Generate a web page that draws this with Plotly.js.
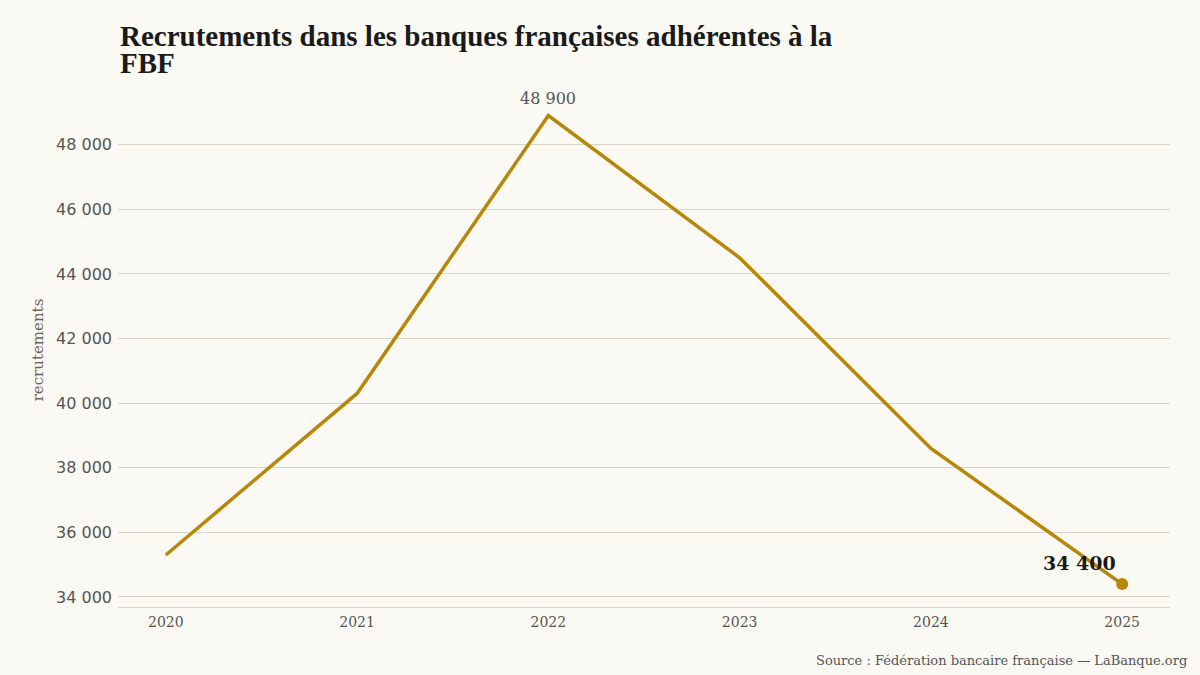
<!DOCTYPE html>
<html>
<head>
<meta charset="utf-8">
<script src="https://cdn.plot.ly/plotly-3.0.1.min.js"></script>
<style>
  html, body { margin: 0; padding: 0; background: #fbf9f3; }
  #chart { width: 1200px; height: 675px; }
</style>
</head>
<body>
<div id="chart"></div>
<script>
// Recrutements annuels, banques adhérentes FBF
const years = [2020, 2021, 2022, 2023, 2024, 2025];
const hires = [35300, 40300, 48900, 44500, 38600, 34400];
const yTicks = [34000, 36000, 38000, 40000, 42000, 44000, 46000, 48000];

const gold = '#b8860b';
const fmt = v => String(v).replace(/\B(?=(\d{3})+(?!\d))/g, ' ');

const peakIdx = hires.indexOf(Math.max(...hires));
const lastIdx = hires.length - 1;

const titleFont = { family: '"Liberation Serif", serif', size: 29, color: '#1a1a1a', weight: 'bold' };

const traces = [
  {
    x: years, y: hires, type: 'scatter', mode: 'lines',
    line: { color: gold, width: 3.5 },
    hoverinfo: 'skip', showlegend: false
  },
  {
    x: [years[lastIdx]], y: [hires[lastIdx]], type: 'scatter', mode: 'markers',
    marker: { color: gold, size: 12 },
    hoverinfo: 'skip', showlegend: false
  }
];

const layout = {
  width: 1200, height: 675,
  paper_bgcolor: '#fbf9f3', plot_bgcolor: '#fbf9f3',
  margin: { l: 118, r: 30, t: 93, b: 68 },
  separators: ', ',
  xaxis: {
    range: [2019.75, 2025.25],
    tickvals: years, ticktext: years.map(String),
    showgrid: false, zeroline: false,
    showline: true, linecolor: '#d9d3c8', linewidth: 1,
    ticks: '', ticklabelstandoff: 2,
    tickfont: { family: '"DejaVu Serif", serif', size: 14, color: '#555' }
  },
  yaxis: {
    range: [33690, 49600],
    tickvals: yTicks, tickformat: ',d',
    showgrid: true, gridcolor: '#d9d3c8', gridwidth: 1,
    zeroline: false, showline: false, ticks: '',
    ticklabelstandoff: 5,
    tickfont: { family: '"DejaVu Sans", sans-serif', size: 16, color: '#555' },
    title: {
      text: 'recrutements', standoff: 8,
      font: { family: '"DejaVu Serif", serif', size: 15, color: '#666' }
    }
  },
  annotations: [
    // Titre sur deux lignes
    {
      x: 0, y: 1, xref: 'paper', yref: 'paper',
      text: '<b>Recrutements dans les banques françaises adhérentes à la</b>',
      showarrow: false, xanchor: 'left', yanchor: 'middle', yshift: 57,
      font: titleFont
    },
    {
      x: 0, y: 1, xref: 'paper', yref: 'paper',
      text: '<b>FBF</b>',
      showarrow: false, xanchor: 'left', yanchor: 'middle', yshift: 30,
      font: titleFont
    },
    {
      x: years[peakIdx], y: hires[peakIdx], xref: 'x', yref: 'y',
      text: fmt(hires[peakIdx]), showarrow: false,
      yanchor: 'bottom', yshift: 6,
      font: { family: '"DejaVu Serif", serif', size: 16, color: '#555' }
    },
    {
      x: years[lastIdx], y: hires[lastIdx], xref: 'x', yref: 'y',
      text: '<b>' + fmt(hires[lastIdx]) + '</b>', showarrow: false,
      xanchor: 'right', yanchor: 'bottom', xshift: -4, yshift: 8,
      font: { family: '"DejaVu Serif", serif', size: 19, color: '#1a1a1a' }
    },
    {
      x: 1, y: 0, xref: 'paper', yref: 'paper',
      text: 'Source : Fédération bancaire française — LaBanque.org',
      showarrow: false, xanchor: 'right', yanchor: 'top',
      xshift: 19, yshift: -44,
      font: { family: '"DejaVu Serif", serif', size: 13, color: '#555' }
    }
  ]
};

Plotly.newPlot('chart', traces, layout, { displayModeBar: false, staticPlot: true });
</script>
</body>
</html>
